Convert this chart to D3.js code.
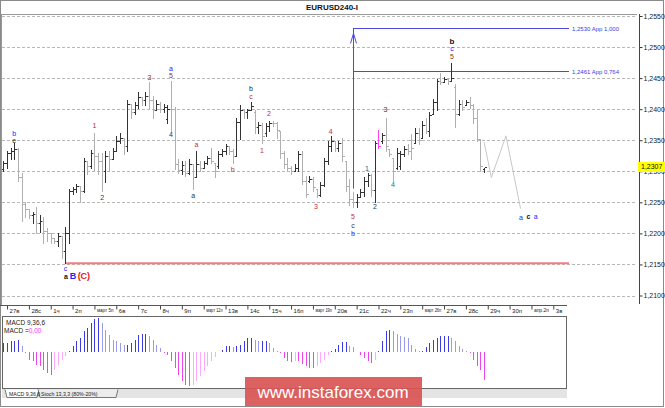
<!DOCTYPE html>
<html><head><meta charset="utf-8">
<script src="https://cdn.jsdelivr.net/npm/d3@7/dist/d3.min.js"></script>
<style>body{margin:0;background:#fff}svg{display:block}text{font-family:"Liberation Sans",Arial,sans-serif}</style>
</head><body><svg id="c" width="665" height="408"></svg>
<script>
// ---- DATA ----
const opens = [1.2304,1.2314,1.2330,1.2333,1.2336,1.2291,1.2248,1.2240,1.2230,1.2232,1.2217,1.2220,1.2204,1.2200,1.2192,1.2188,1.2195,1.2172,1.2201,1.2269,1.2271,1.2276,1.2269,1.2317,1.2309,1.2330,1.2325,1.2317,1.2301,1.2325,1.2320,1.2333,1.2349,1.2353,1.2340,1.2409,1.2395,1.2406,1.2420,1.2414,1.2422,1.2414,1.2398,1.2408,1.2401,1.2384,1.2401,1.2400,1.2312,1.2302,1.2310,1.2298,1.2312,1.2290,1.2312,1.2306,1.2314,1.2322,1.2314,1.2308,1.2328,1.2333,1.2340,1.2333,1.2325,1.2380,1.2398,1.2395,1.2398,1.2396,1.2372,1.2375,1.2362,1.2373,1.2378,1.2377,1.2365,1.2330,1.2312,1.2306,1.2301,1.2306,1.2328,1.2285,1.2285,1.2288,1.2272,1.2262,1.2278,1.2316,1.2340,1.2349,1.2338,1.2345,1.2317,1.2277,1.2256,1.2250,1.2258,1.2266,1.2285,1.2294,1.2270,1.2345,1.2348,1.2358,1.2336,1.2322,1.2306,1.2308,1.2328,1.2336,1.2350,1.2346,1.2362,1.2354,1.2375,1.2365,1.2393,1.2412,1.2446,1.2443,1.2449,1.2446,1.2435,1.2392,1.2408,1.2406,1.2411,1.2406,1.2385,1.2352,1.2304];
const highs = [1.2317,1.2333,1.2338,1.2346,1.2338,1.2298,1.2250,1.2240,1.2234,1.2242,1.2229,1.2226,1.2209,1.2200,1.2192,1.2200,1.2195,1.2211,1.2272,1.2274,1.2280,1.2277,1.2322,1.2317,1.2335,1.2362,1.2330,1.2329,1.2333,1.2333,1.2338,1.2357,1.2362,1.2354,1.2414,1.2409,1.2411,1.2427,1.2420,1.2427,1.2443,1.2422,1.2414,1.2411,1.2409,1.2406,1.2446,1.2403,1.2320,1.2317,1.2317,1.2320,1.2312,1.2333,1.2317,1.2317,1.2325,1.2338,1.2314,1.2333,1.2336,1.2344,1.2341,1.2336,1.2385,1.2406,1.2401,1.2401,1.2411,1.2398,1.2379,1.2377,1.2377,1.2381,1.2381,1.2379,1.2365,1.2333,1.2322,1.2309,1.2312,1.2333,1.2333,1.2293,1.2293,1.2290,1.2272,1.2282,1.2322,1.2349,1.2356,1.2349,1.2349,1.2354,1.2317,1.2288,1.2266,1.2264,1.2272,1.2290,1.2298,1.2296,1.2349,1.2367,1.2362,1.2386,1.2336,1.2322,1.2338,1.2333,1.2341,1.2344,1.2360,1.2369,1.2370,1.2381,1.2385,1.2395,1.2417,1.2449,1.2459,1.2451,1.2449,1.2475,1.2440,1.2414,1.2414,1.2414,1.2419,1.2409,1.2398,1.2352,1.2306];
const lows = [1.2301,1.2306,1.2320,1.2320,1.2285,1.2220,1.2226,1.2224,1.2216,1.2200,1.2202,1.2185,1.2188,1.2184,1.2184,1.2180,1.2161,1.2152,1.2185,1.2264,1.2266,1.2250,1.2266,1.2296,1.2306,1.2301,1.2296,1.2269,1.2282,1.2301,1.2320,1.2333,1.2346,1.2328,1.2333,1.2386,1.2393,1.2402,1.2406,1.2406,1.2402,1.2385,1.2398,1.2395,1.2395,1.2377,1.2365,1.2304,1.2298,1.2296,1.2293,1.2296,1.2272,1.2290,1.2301,1.2306,1.2312,1.2314,1.2290,1.2306,1.2325,1.2328,1.2328,1.2314,1.2325,1.2352,1.2386,1.2386,1.2398,1.2362,1.2361,1.2346,1.2356,1.2365,1.2373,1.2354,1.2322,1.2306,1.2301,1.2296,1.2301,1.2301,1.2280,1.2258,1.2282,1.2269,1.2258,1.2261,1.2277,1.2312,1.2333,1.2333,1.2333,1.2317,1.2269,1.2245,1.2242,1.2242,1.2258,1.2261,1.2277,1.2261,1.2250,1.2337,1.2346,1.2333,1.2325,1.2285,1.2304,1.2304,1.2325,1.2328,1.2320,1.2346,1.2344,1.2354,1.2361,1.2357,1.2393,1.2398,1.2441,1.2443,1.2441,1.2446,1.2371,1.2390,1.2398,1.2406,1.2402,1.2377,1.2349,1.2301,1.2299];
const closes = [1.2314,1.2330,1.2333,1.2336,1.2291,1.2248,1.2240,1.2230,1.2232,1.2217,1.2220,1.2204,1.2200,1.2192,1.2188,1.2195,1.2172,1.2201,1.2269,1.2271,1.2276,1.2269,1.2317,1.2309,1.2330,1.2325,1.2317,1.2301,1.2325,1.2320,1.2333,1.2349,1.2353,1.2340,1.2409,1.2395,1.2406,1.2420,1.2414,1.2422,1.2414,1.2398,1.2408,1.2401,1.2404,1.2401,1.2400,1.2312,1.2302,1.2310,1.2298,1.2312,1.2290,1.2312,1.2306,1.2314,1.2322,1.2317,1.2301,1.2328,1.2333,1.2340,1.2333,1.2325,1.2380,1.2398,1.2395,1.2398,1.2405,1.2372,1.2375,1.2356,1.2373,1.2378,1.2377,1.2367,1.2330,1.2312,1.2306,1.2301,1.2306,1.2328,1.2285,1.2264,1.2288,1.2274,1.2262,1.2278,1.2316,1.2340,1.2349,1.2338,1.2345,1.2325,1.2277,1.2256,1.2250,1.2258,1.2266,1.2285,1.2294,1.2270,1.2345,1.2340,1.2358,1.2340,1.2328,1.2300,1.2330,1.2328,1.2336,1.2333,1.2338,1.2362,1.2350,1.2375,1.2365,1.2390,1.2412,1.2446,1.2443,1.2449,1.2445,1.2450,1.2392,1.2408,1.2403,1.2411,1.2406,1.2385,1.2352,1.2309,1.2307];
const highlightBar = 103;
const macd = [0.0009,0.0009,0.0011,0.0011,0.0012,0.0006,-0.0001,-0.0008,-0.0009,-0.0013,-0.0014,-0.0018,-0.0021,-0.0023,-0.0018,-0.0013,-0.0008,-0.0004,0.0001,0.0006,0.0011,0.0014,0.0021,0.0024,0.0029,0.0033,0.0034,0.0029,0.0022,0.0017,0.0012,0.0011,0.0009,0.0007,0.0007,0.0009,0.0012,0.0017,0.0018,0.0018,0.0016,0.0012,0.0007,0.0004,-0.0001,-0.0003,-0.0009,-0.0016,-0.0023,-0.0029,-0.0033,-0.0034,-0.0033,-0.0029,-0.0024,-0.0019,-0.0014,-0.0009,-0.0005,0.0000,0.0002,0.0006,0.0006,0.0005,0.0006,0.0007,0.0011,0.0014,0.0014,0.0012,0.0011,0.0011,0.0011,0.0009,0.0004,0.0001,-0.0001,-0.0006,-0.0009,-0.0010,-0.0009,-0.0009,-0.0012,-0.0014,-0.0016,-0.0016,-0.0014,-0.0011,-0.0008,-0.0003,0.0001,0.0003,0.0007,0.0010,0.0010,0.0006,0.0005,0.0000,-0.0003,-0.0006,-0.0009,-0.0011,-0.0008,0.0001,0.0011,0.0021,0.0022,0.0021,0.0018,0.0016,0.0015,0.0014,0.0007,0.0003,0.0001,0.0001,0.0005,0.0009,0.0012,0.0014,0.0016,0.0016,0.0016,0.0014,0.0011,0.0006,0.0003,0.0001,-0.0001,-0.0008,-0.0014,-0.0018,-0.0028];
const dayLabels = ["27в","28с","1ч","2п","март 5п","6в","7с","8ч","9п","март 12п","13в","14с","15ч","16п","март 19п","20в","21с","22ч","23п","март 26п","27в","28с","29ч","30п","апр.2п","3в"];
const priceTicks = [1.2100,1.2150,1.2200,1.2250,1.2300,1.2350,1.2400,1.2450,1.2500,1.2550];
const lastPrice = 1.2307;
const fibLevels = [{p:1.2530,label:"1,2530 App 1,000"},{p:1.2461,label:"1,2461 App 0,764"}];
const supportLevel = 1.2152;
const forecastIdx = [132,134,138,142];
const forecastPrice = [1.2347,1.2290,1.2357,1.2240];
const arrowBar = 96, arrowLow = 1.2272;
// wave labels: bar index, price, text, colour, size, bold
const waveLabels = [
 [3,1.2360,"b","#2323ff",7,0],[3,1.2350,"e","#333",7,0],
 [25,1.2373,"1","#a03030",7,0],[27.1,1.2257,"2","#333",7,0],[40.1,1.2451,"3","#7a3a2a",7,0],
 [46,1.2465,"a","#2323ff",7,0],[46,1.2454,"5","#7a3a2a",7,0],[46,1.2359,"4","#333",7,0],
 [53,1.2343,"a","#c03030",7,0],[52.1,1.2261,"a","#333",7,0],[63,1.2302,"b","#c03030",7,0],
 [68,1.2433,"b","#222",7,0],[68,1.2420,"c","#c03030",7,0],[71,1.2333,"1","#c03030",7,0],
 [72.9,1.2393,"2","#c03030",7,0],[85.8,1.2244,"3","#c03030",7,0],[89.9,1.2364,"4","#c03030",7,0],
 [96,1.2227,"5","#c03030",7,0],[96,1.2213,"c","#333",7,0],[96,1.2199,"b","#2323ff",7,0],
 [99.8,1.2304,"1","#2a6a8a",7,0],[102,1.2243,"2","#333",7,0],[104.9,1.2399,"3","#333",7,0],
 [107,1.2278,"4","#2a6a8a",7,0],[123.2,1.2509,"b","#111",8,1],[123.2,1.2497,"c","#2323ff",7,0],
 [123.2,1.2485,"5","#7a3a2a",7,0],[142.1,1.2226,"a","#2323ff",7,0],[144.2,1.2227,"c","#111",7,1],
 [146.2,1.2227,"a","#2323ff",7,0],[17.05,1.2144,"c","#2323ff",7,0],[17.2,1.2131,"a","#111",7,1],
 [19.1,1.2132,"B","#2323ff",9,1],[22.1,1.2132,"(C)","#e02020",9,1]
];

// ---- SCALES ----
const svg = d3.select("#c");
const x = d3.scaleLinear().domain([0,132]).range([3.4,484.1]);
const y = d3.scaleLinear().domain([1.2100,1.2550]).range([295.5,16]);
const ym = d3.scaleLinear().domain([-0.0037,0.0036]).range([389,316]);
const rightIdx = x.invert(569);
const fmt = v => d3.format(".4f")(v).replace(".",",");

// frame
svg.append("rect").attr("x",0.5).attr("y",0.5).attr("width",663).attr("height",406).attr("fill","#fff").attr("stroke","#8a8a8a");
svg.append("text").attr("x",332).attr("y",10).attr("text-anchor","middle").attr("font-size",8).attr("font-weight","bold").attr("fill","#111").text("EURUSD240-I");
svg.append("line").attr("x1",1).attr("x2",637).attr("y1",14.5).attr("y2",14.5).attr("stroke","#999");
svg.append("line").attr("x1",1.5).attr("x2",1.5).attr("y1",14).attr("y2",305).attr("stroke","#999");

// grid
svg.append("g").selectAll("line").data(priceTicks).join("line")
 .attr("x1",2).attr("x2",636).attr("y1",d=>Math.round(y(d))+0.5).attr("y2",d=>Math.round(y(d))+0.5)
 .attr("stroke","#b8b8b8").attr("stroke-dasharray","3,2");

// price axis
const ay = svg.append("g").attr("transform","translate(639.5,0)")
 .call(d3.axisRight(y).tickValues(priceTicks).tickSize(3).tickSizeOuter(0).tickFormat(fmt));
ay.select(".domain").remove();
ay.selectAll("text").attr("font-size",7).attr("fill","#222").attr("x",4);
ay.selectAll("line").attr("stroke","#333");
svg.append("line").attr("x1",639.5).attr("x2",639.5).attr("y1",14).attr("y2",304).attr("stroke","#444");

// x axis
const dayIdx = dayLabels.map((d,i)=>6*i+1);
const ax = svg.append("g").attr("transform","translate(0,305.5)")
 .call(d3.axisBottom(x).tickValues(dayIdx).tickSize(4).tickSizeOuter(0).tickFormat((d,i)=>dayLabels[i]));
ax.select(".domain").remove();
ax.selectAll("text").attr("font-size",6).attr("fill","#222").attr("text-anchor","start").attr("dx",2).attr("y",3);
ax.selectAll("text").filter((d,i)=>dayLabels[i].length>4)
 .attr("font-size",5.6)
 .attr("textLength",(d,i,n)=>d3.select(n[i]).text().startsWith("апр")?15:16.5).attr("lengthAdjust","spacingAndGlyphs");
ax.selectAll("line").attr("stroke","#444");
svg.append("line").attr("x1",0).attr("x2",567).attr("y1",305.5).attr("y2",305.5).attr("stroke","#555");

// support line
svg.append("line").attr("x1",x(17)).attr("x2",x(rightIdx)).attr("y1",y(supportLevel)).attr("y2",y(supportLevel))
 .attr("stroke","#f08080").attr("stroke-width",2);

// fib lines
svg.append("g").selectAll("line").data(fibLevels).join("line")
 .attr("x1",x(arrowBar)).attr("x2",x(rightIdx)).attr("y1",d=>Math.round(y(d.p))+0.5).attr("y2",d=>Math.round(y(d.p))+0.5)
 .attr("stroke","#4a4ae0");
svg.append("g").selectAll("text").data(fibLevels).join("text")
 .attr("x",x(rightIdx)+3).attr("y",d=>y(d.p)+2.5).attr("font-size",6).attr("fill","#3a3ae8").text(d=>d.label);
const ax0 = Math.round(x(arrowBar))+0.5;
svg.append("line").attr("x1",ax0).attr("x2",ax0).attr("y1",y(arrowLow)).attr("y2",y(fibLevels[0].p)).attr("stroke","#4a4ae0");
svg.append("path").attr("d",`M${ax0-3},${y(fibLevels[0].p)+15} L${ax0},${y(fibLevels[0].p)+5} L${ax0+3},${y(fibLevels[0].p)+15}`)
 .attr("fill","none").attr("stroke","#4a4ae0");

// forecast
svg.append("path").datum(forecastIdx.map((d,i)=>[d,forecastPrice[i]]))
 .attr("d",d3.line().x(d=>x(d[0])).y(d=>y(d[1]))).attr("fill","none").attr("stroke","#c8c8c8");

// OHLC bars
const bars = opens.map((o,i)=>({i,o,h:highs[i],l:lows[i],c:closes[i]}));
const colorOf = d => d.i===highlightBar ? "#ff44ff" : (d.c>=d.o ? "#333" : "#b0b0b0");
const gb = svg.append("g").attr("shape-rendering","crispEdges");
const bg = gb.selectAll("g").data(bars).join("g");
bg.append("line").attr("x1",d=>Math.round(x(d.i))+0.5).attr("x2",d=>Math.round(x(d.i))+0.5)
 .attr("y1",d=>y(d.h)).attr("y2",d=>y(d.l)+1).attr("stroke",colorOf);
bg.append("line").attr("x1",d=>Math.round(x(d.i))-1.5).attr("x2",d=>Math.round(x(d.i))+0.5)
 .attr("y1",d=>Math.round(y(d.o))+0.5).attr("y2",d=>Math.round(y(d.o))+0.5).attr("stroke",colorOf);
bg.append("line").attr("x1",d=>Math.round(x(d.i))+0.5).attr("x2",d=>Math.round(x(d.i))+2.5)
 .attr("y1",d=>Math.round(y(d.c))+0.5).attr("y2",d=>Math.round(y(d.c))+0.5).attr("stroke",colorOf);

// wave labels
svg.append("g").selectAll("text").data(waveLabels).join("text")
 .attr("x",d=>x(d[0])).attr("y",d=>y(d[1])).attr("dy","0.35em").attr("text-anchor","middle")
 .attr("font-size",d=>d[4]).attr("font-weight",d=>d[5]?"bold":"normal").attr("fill",d=>d[3]).text(d=>d[2]);

// last price tag
svg.append("rect").attr("x",638).attr("y",y(lastPrice)-5).attr("width",27).attr("height",10).attr("fill","#ffff00");
svg.append("text").attr("x",641).attr("y",y(lastPrice)+2.5).attr("font-size",7).attr("fill","#111").text(fmt(lastPrice));

// MACD panel
svg.append("rect").attr("x",2.5).attr("y",316.5).attr("width",564).attr("height",72).attr("fill","#fff").attr("stroke","#666");
const gm = svg.append("g").attr("shape-rendering","crispEdges");
gm.selectAll("line").data(macd).join("line")
 .attr("x1",(d,i)=>Math.round(x(i))+0.5).attr("x2",(d,i)=>Math.round(x(i))+0.5)
 .attr("y1",ym(0)).attr("y2",d=>ym(d))
 .attr("stroke",(d,i)=>{const p=i>0?macd[i-1]:d; if(d>=0) return d>=p?"#3a3ae6":"#9a9aee"; return d<=p?"#ee44ee":"#ffa8ff";});
svg.append("text").attr("x",6).attr("y",325).attr("font-size",6.5).attr("fill","#222").text("MACD 9,36,6");
const mt = svg.append("text").attr("x",4).attr("y",333).attr("font-size",6.5).attr("fill","#222");
mt.append("tspan").text("MACD =");
mt.append("tspan").attr("fill","#ff33ff").text("0,00");

// tabs
svg.append("rect").attr("x",2).attr("y",389).attr("width",565).attr("height",9).attr("fill","#e4e4e4");
svg.append("path").attr("d","M5,389.5 L7,397.5 L37,397.5 L39,389.5").attr("fill","#fff").attr("stroke","#777");
svg.append("path").attr("d","M38,389.5 L40,397.5 L116,397.5 L118,389.5").attr("fill","#ececec").attr("stroke","#777");
svg.append("text").attr("x",9).attr("y",395.5).attr("font-size",5.2).attr("fill","#222").text("MACD 9,36,6");
svg.append("text").attr("x",41).attr("y",395.5).attr("font-size",5.2).attr("fill","#222").text("Stoch 13,3,3 (80%-20%)");

// watermark
svg.append("rect").attr("x",245).attr("y",377).attr("width",177).attr("height",29).attr("fill","#d95555").attr("opacity",0.92);
svg.append("text").attr("x",333).attr("y",398).attr("text-anchor","middle").attr("font-size",17).attr("fill","#fff").text("www.instaforex.com");
</script></body></html>
